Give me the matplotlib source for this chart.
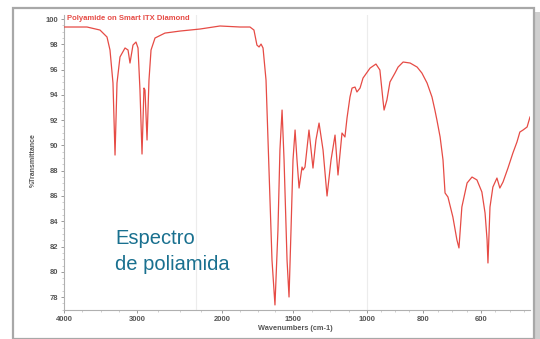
import numpy as np
import matplotlib
matplotlib.use("Agg")
import matplotlib.pyplot as plt
from matplotlib.patches import Rectangle

# ---- data ----
wavenumber = [4000, 3685, 3507, 3411, 3370, 3329, 3301, 3274, 3233, 3164, 3123, 3096, 3055, 3014,
              2988, 2965, 2941, 2918, 2906, 2882, 2859, 2835, 2788, 2671, 2494, 2259, 2024, 1873,
              1803, 1775, 1754, 1739, 1725, 1711, 1690, 1669, 1648, 1627, 1606, 1592, 1577, 1563,
              1542, 1528, 1514, 1500, 1486, 1473, 1459, 1439, 1432, 1419, 1392, 1365, 1345, 1324,
              1297, 1270, 1243, 1216, 1196, 1169, 1149, 1135, 1115, 1101, 1081, 1068, 1047, 1027,
              989, 968, 954, 943, 939, 929, 918, 900, 889, 871, 846, 821, 804, 786, 769, 759, 752,
              741, 731, 724, 714, 697, 683, 676, 666, 648, 631, 614, 597, 586, 579, 576, 569, 559,
              545, 535, 524, 507, 490, 476, 466, 455, 441, 431]
transmittance = [99.37, 99.37, 99.13, 98.58, 97.55, 94.94, 89.24, 94.94, 97.0, 97.71, 97.55, 96.52,
                 97.94, 98.18, 97.71, 94.38, 89.32, 94.54, 94.38, 90.43, 95.17, 97.55, 98.50, 98.89,
                 99.05, 99.21, 99.45, 99.37, 99.37, 99.13, 97.94, 97.79, 98.02, 97.71, 95.17, 88.06,
                 80.94, 77.38, 83.31, 89.64, 92.80, 88.85, 80.94, 78.01, 83.31, 88.85, 91.22, 88.85,
                 86.63, 88.29, 88.06, 88.29, 91.22, 88.21, 90.43, 91.77, 89.64, 86.0, 88.85, 90.82,
                 87.66, 90.98, 90.67, 92.17, 93.83, 94.54, 94.62, 94.23, 94.54, 95.33, 96.12, 96.44,
                 95.97, 93.59, 92.80, 93.59, 95.02, 95.73, 96.20, 96.60, 96.52, 96.20, 95.73, 94.94,
                 93.83, 92.80, 92.01, 90.67, 88.85, 86.24, 85.92, 84.34, 82.52, 81.89, 85.13, 87.03,
                 87.50, 87.27, 86.32, 84.65, 82.52, 80.70, 85.13, 86.71, 87.42, 86.63, 87.11, 88.21,
                 89.40, 90.27, 91.06, 91.22, 91.46, 92.25]
x_major_ticks = [4000, 3000, 2000, 1500, 1000, 800, 600]
x_minor_ticks = [3750, 3500, 3250, 2750, 2500, 2250, 1875, 1750, 1625, 1375, 1250, 1125,
                 950, 900, 850, 750, 700, 650, 550, 500, 450]
y_major_ticks = [78, 80, 82, 84, 86, 88, 90, 92, 94, 96, 98, 100]

# piecewise axis scale of the instrument display
_wn_knots = [431, 600, 800, 1000, 1500, 2000, 3000, 4000]
_pos_knots = [530, 481, 423, 367, 293, 222, 137, 64]
_neg_pos = [-p for p in _pos_knots]  # increasing


def fwd(x):
    return np.interp(x, _wn_knots, _neg_pos)


def inv(p):
    return np.interp(p, _neg_pos, _wn_knots)


W, H = 540, 339
fig = plt.figure(figsize=(W / 100, H / 100), dpi=100)
fig.patch.set_facecolor("white")

# outer frame with shadow
fig.add_artist(Rectangle((534 / W, 0), 6 / W, 1 - 12 / H, transform=fig.transFigure,
                         facecolor="#cfcfcf", edgecolor="none", zorder=-3))
fig.add_artist(Rectangle((13 / W, 0), (534 - 13) / W, 1 - 8 / H, transform=fig.transFigure,
                         facecolor="white", edgecolor="#a8a8a8", linewidth=1.6, zorder=-2))

ax = fig.add_axes([64 / W, 1 - 310 / H, (530 - 64) / W, (310 - 15) / H])
ax.set_zorder(1)
ax.patch.set_alpha(0)
ax.set_xscale("function", functions=(fwd, inv))
ax.set_xlim(4000, 431)
ax.set_ylim(76.98, 100.32)

for wn in (2306, 1000):
    ax.axvline(wn, color="#ececec", lw=0.8, zorder=0)

ax.plot(wavenumber, transmittance, color="#e64b45", lw=0.9, zorder=3)

for s in ("top", "right"):
    ax.spines[s].set_visible(False)
for s in ("left", "bottom"):
    ax.spines[s].set_color("#b0b0b0")
    ax.spines[s].set_linewidth(0.8)

lab_font = dict(family="Liberation Sans", size=5.5, weight="bold", color="#555555")
ax.set_xticks(x_major_ticks)
ax.set_xticklabels([str(t) for t in x_major_ticks], **lab_font)
ax.set_xticks(x_minor_ticks, minor=True)
ax.set_yticks(y_major_ticks)
ax.set_yticklabels([str(t) for t in y_major_ticks], **lab_font)
ax.set_yticks(np.arange(77, 100.3, 0.5), minor=True)
ax.tick_params(axis="both", which="major", length=2, width=0.7, color="#999999", pad=2)
ax.tick_params(axis="both", which="minor", length=1.2, width=0.5, color="#bbbbbb")

fig.text(67 / W, 1 - 19 / H, "Polyamide on Smart ITX Diamond", family="Liberation Sans",
         size=5.5, weight="bold", color="#e64b45", va="center", ha="left")
fig.text(33 / W, 1 - 160 / H, "%Transmittance", family="Liberation Sans", size=5,
         weight="bold", color="#555555", rotation=90, va="center", ha="center")
fig.text(295 / W, 1 - 328 / H, "Wavenumbers (cm-1)", family="Liberation Sans", size=5.3,
         weight="bold", color="#555555", va="center", ha="center")

fig.text(115 / W, 1 - 244 / H, "Espectro", family="Liberation Sans", size=14.5,
         color="#19708f", va="baseline", ha="left")
fig.text(115 / W, 1 - 270 / H, "de poliamida", family="Liberation Sans", size=14.5,
         color="#19708f", va="baseline", ha="left")

fig.savefig("out.png", dpi=100)
